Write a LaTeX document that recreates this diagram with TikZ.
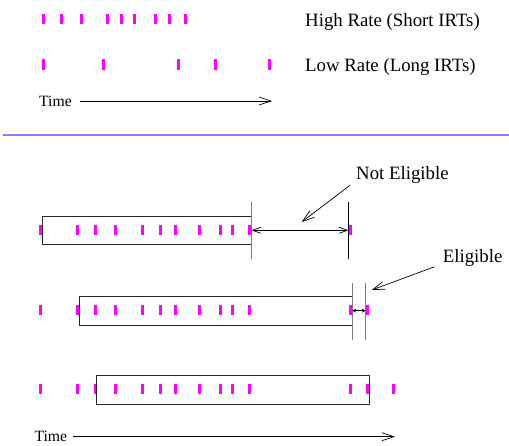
\documentclass[tikz,border=0pt]{standalone}
\usepackage{fontspec}
\setmainfont{Liberation Serif}
\usetikzlibrary{arrows.meta}
\definecolor{spikecol}{RGB}{255,0,255}
\definecolor{divider}{RGB}{128,128,255}
\definecolor{guide}{RGB}{125,125,125}
\tikzset{
    spike/.style={fill=spikecol},
    txt/.style={anchor=base west, inner sep=0pt, font=\fontsize{18.8}{22}\selectfont},
    timetxt/.style={anchor=base west, inner sep=0pt, font=\fontsize{15.7}{18}\selectfont},
    arrow/.style={-{Straight Barb[length=12pt,width=8pt]}, line width=0.7pt},
    gap/.style={{Straight Barb[length=8pt,width=6pt]}-{Straight Barb[length=8pt,width=6pt]}, line width=0.7pt},
    tinygap/.style={{Straight Barb[length=3pt,width=3pt]}-{Straight Barb[length=3pt,width=3pt]}, line width=0.7pt},
    window/.style={draw=black!85, line width=0.8pt},
    marker/.style={draw=guide, line width=1pt}
}

\begin{document}
\begin{tikzpicture}[x=1pt,y=-1pt]
\useasboundingbox (0,0) rectangle (509,445);
% upper panel: two spike trains
\foreach \px in {43,61.7,81.7,107.3,121,134.7,155.3,169.3,185.3}
    \fill[spike] (\px-1.5,14) rectangle (\px+1.5,24);
\foreach \px in {43,103,178.7,215,269.7}
    \fill[spike] (\px-1.5,59.3) rectangle (\px+1.5,69.7);
\node[txt] (highlbl) at (305,26) {High Rate (Short IRTs)};
\node[txt] (lowlbl) at (305,71.3) {Low Rate (Long IRTs)};
\node[timetxt] (timeup) at (39,106) {Time};
\coordinate (timeupend) at (272,101);
\draw[arrow] ([xshift=8pt,yshift=5pt]timeup.base east) -- (timeupend);
\draw[draw=divider, line width=1.6pt] (3,134.7) -- (509,134.7);
% lower panel: sliding window over one stream
\foreach \px in {40,77.7,95.3,115,142.3,160,175.7,199.3,220.7,232.7,249.7,350}
    \fill[spike] (\px-1.5,225.3) rectangle (\px+1.5,235.3);
\foreach \px in {40.3,77.7,95.3,115,142.3,160,175.7,199.3,220.7,232.7,249.7,350,367.7}
    \fill[spike] (\px-1.5,305) rectangle (\px+1.5,315);
\foreach \px in {40.3,77.7,95.3,115,142.3,160,175.7,199.3,220.7,232.7,249.7,350,367.7,393.3}
    \fill[spike] (\px-1.5,384.3) rectangle (\px+1.5,394.3);
\draw[window] (42,216) rectangle (251.7,244.3);
\draw[window] (79.3,296.7) rectangle (352.3,325);
\draw[window] (96.7,375.7) rectangle (369.3,404);
\draw[marker] (251.7,202.3) -- (251.7,259.3);
\draw[marker, draw=black] (348.3,202.3) -- (348.3,259.3);
\draw[marker] (352.3,283.3) -- (352.3,340);
\draw[marker] (365.7,283.3) -- (365.7,340);
\coordinate (edgeA) at (251.7,230.3);
\coordinate (nextA) at (348.3,230.3);
\coordinate (edgeB) at (352.3,310.7);
\coordinate (nextB) at (365.7,310.7);
\draw[gap] (edgeA) -- (nextA);
\draw[tinygap] (edgeB) -- (nextB);
\node[txt] (nelbl) at (356,179.3) {Not Eligible};
\node[txt] (ellbl) at (442.7,262.7) {Eligible};
\coordinate (negap) at (301.7,222);
\coordinate (elgap) at (371.7,290);
\draw[arrow] ([xshift=-6pt,yshift=-6pt]nelbl.base west) -- (negap);
\draw[arrow] ([xshift=-8pt,yshift=-4pt]ellbl.base west) -- (elgap);
\node[timetxt] (timedown) at (34.3,441) {Time};
\coordinate (timedownend) at (395,436.7);
\draw[arrow] ([xshift=6pt,yshift=4.3pt]timedown.base east) -- (timedownend);
\end{tikzpicture}
\end{document}
